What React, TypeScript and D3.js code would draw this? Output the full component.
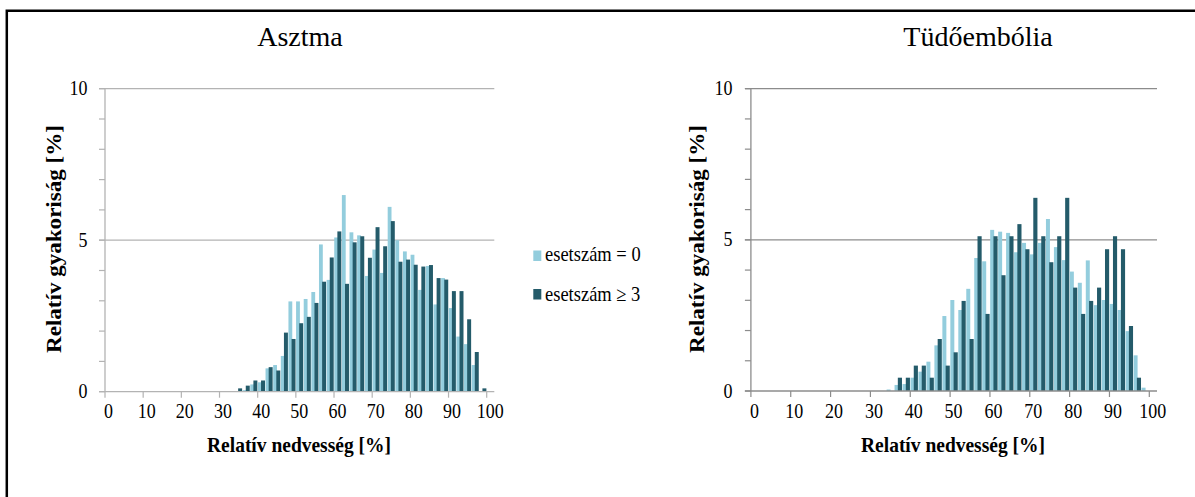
import React from 'react';
import * as d3 from 'd3';

// Humidity bins (2 % wide), identified by their centre value
const binCenters = [35, 37, 39, 41, 43, 45, 47, 49, 51, 53, 55, 57, 59, 61, 63, 65, 67, 69, 71, 73, 75, 77, 79, 81, 83, 85, 87, 89, 91, 93, 95, 97, 99];

// Asztma – relative frequency [%] per bin
const asthmaZero = [0, 0.05, 0.24, 0.31, 0.77, 0.88, 1.18, 2.98, 2.98, 3.06, 3.29, 4.86, 3.69, 5.09, 6.49, 5.26, 5.16, 3.82, 4.69, 3.92, 6.1, 5.0, 4.63, 4.52, 3.36, 4.15, 2.88, 3.75, 2.76, 1.82, 1.57, 0.88, 0];
const asthmaThreePlus = [0.11, 0.2, 0.37, 0.37, 0.81, 0.7, 1.95, 1.74, 2.26, 2.47, 2.93, 3.63, 4.43, 5.29, 3.56, 4.93, 5.13, 4.42, 5.43, 4.8, 5.63, 4.29, 4.36, 4.19, 4.13, 4.18, 3.75, 3.7, 3.32, 3.32, 2.39, 1.31, 0.11];

// Tüdőembólia – relative frequency [%] per bin
const embolismZero = [0.05, 0.2, 0.23, 0.44, 0.64, 0.97, 1.51, 2.48, 3.01, 2.68, 3.38, 4.4, 4.29, 5.33, 5.27, 5.23, 4.59, 4.9, 4.52, 4.9, 5.69, 4.76, 4.33, 3.95, 3.58, 4.32, 2.84, 3.01, 2.88, 2.68, 1.98, 1.18, 0.11];
const embolismThreePlus = [0, 0.44, 0.44, 0.84, 0.84, 0.44, 1.72, 0.84, 1.28, 2.98, 1.72, 5.12, 2.55, 5.12, 3.83, 5.12, 5.52, 4.69, 6.39, 5.12, 4.26, 5.12, 6.39, 3.42, 2.55, 2.98, 3.42, 4.69, 5.12, 4.69, 2.15, 0.44, 0];

const xTickValues = [0, 10, 20, 30, 40, 50, 60, 70, 80, 90, 100];
const yLabelValues = [0, 5, 10];
const yMinorValues = [0, 1, 2, 3, 4, 5, 6, 7, 8, 9, 10];
const gridValues = [5, 10];
const seriesNames = ['esetszám = 0', 'esetszám ≥ 3'];
const seriesColors = ['#93CDDD', '#245B6A'];

const FONT = '"Liberation Serif", "Times New Roman", serif';
const STRETCH = 1.12;

type TextProps = {
  x: number;
  y: number;
  children: React.ReactNode;
  anchor?: 'start' | 'middle' | 'end';
  size?: number;
  weight?: string | number;
  sy?: number;
};

function SText({ x, y, children, anchor = 'middle', size = 18, weight = 'normal', sy = STRETCH }: TextProps) {
  return (
    <text
      transform={`translate(${x},${y}) scale(1,${sy})`}
      textAnchor={anchor}
      fontFamily={FONT}
      fontSize={size}
      fontWeight={weight}
      fill="#000"
    >
      {children}
    </text>
  );
}

type PanelProps = {
  title: string;
  zero: number[];
  threePlus: number[];
  left: number;
  right: number;
  axisEnd: number;
  top: number;
  bottom: number;
  gridColor: string;
  titleX: number;
  xTitleX: number;
  yTitleX: number;
  yLabelRight: number;
};

function Panel(p: PanelProps) {
  const x = d3.scaleLinear().domain([0, 100]).range([p.left, p.right]);
  const y = d3.scaleLinear().domain([0, 10]).range([p.bottom, p.top]);
  const bw = x(2) - x(0);

  return (
    <g>
      {/* chart title */}
      <text x={p.titleX} y={45.7} textAnchor="middle" fontFamily={FONT} fontSize={28}>
        {p.title}
      </text>

      {/* horizontal gridlines */}
      {gridValues.map((v) => (
        <line key={`g${v}`} x1={p.left - 6} x2={p.axisEnd} y1={y(v)} y2={y(v)} stroke={p.gridColor} strokeWidth={1.3} />
      ))}

      {/* bars: light series left, dark series right within each bin */}
      {binCenters.map((c, i) => {
        const x0 = x(c - 1);
        const v0 = p.zero[i];
        const v3 = p.threePlus[i];
        return (
          <g key={`b${c}`}>
            {v0 > 0 && (
              <rect x={x0 + bw * 0.03} width={bw * 0.5} y={y(v0)} height={y(0) - y(v0)} fill={seriesColors[0]} />
            )}
            {v3 > 0 && (
              <rect x={x0 + bw * 0.44} width={bw * 0.52} y={y(v3)} height={y(0) - y(v3)} fill={seriesColors[1]} />
            )}
          </g>
        );
      })}

      {/* y axis */}
      <line x1={p.left} x2={p.left} y1={p.top} y2={p.bottom} stroke={p.gridColor} strokeWidth={1.3} />
      {yMinorValues.map((v) => (
        <line key={`yt${v}`} x1={p.left - 6} x2={p.left} y1={y(v)} y2={y(v)} stroke={p.gridColor} strokeWidth={1.2} />
      ))}
      {yLabelValues.map((v) => (
        <SText key={`yl${v}`} x={p.yLabelRight} y={y(v) + 6.5} anchor="end" size={18}>
          {v}
        </SText>
      ))}

      {/* x axis */}
      <line x1={p.left - 6} x2={p.axisEnd} y1={p.bottom} y2={p.bottom} stroke={p.gridColor} strokeWidth={1.3} />
      {xTickValues.map((v) => (
        <line key={`xt${v}`} x1={x(v)} x2={x(v)} y1={p.bottom} y2={p.bottom + 6} stroke={p.gridColor} strokeWidth={1.2} />
      ))}
      {xTickValues.map((v) => (
        <SText key={`xl${v}`} x={x(v) + 3.5} y={418} size={18}>
          {v}
        </SText>
      ))}

      {/* axis titles */}
      <SText x={p.xTitleX} y={452} size={19.5} weight="bold">
        Relatív nedvesség [%]
      </SText>
      <text
        transform={`translate(${p.yTitleX},239) rotate(-90)`}
        textAnchor="middle"
        fontFamily={FONT}
        fontSize={20}
        fontWeight="bold"
        textLength={228}
        lengthAdjust="spacingAndGlyphs"
      >
        Relatív gyakoriság [%]
      </text>
    </g>
  );
}

export default function App() {
  const legendRows = [0, 1];
  return (
    <svg
      width={1195}
      height={497}
      viewBox="0 0 1195 497"
      style={{ position: 'absolute', left: 0, top: 0, background: '#fff' }}
    >
      <rect x={0} y={0} width={1195} height={497} fill="#fff" />
      {/* frame */}
      <path d="M6.8,497 V10.7 H1195" fill="none" stroke="#000" strokeWidth={2.5} />

      <Panel
        title="Asztma"
        zero={asthmaZero}
        threePlus={asthmaThreePlus}
        left={105}
        right={486.7}
        axisEnd={494.3}
        top={88.7}
        bottom={391.7}
        gridColor="#b3b3b3"
        titleX={300}
        xTitleX={299}
        yTitleX={60.5}
        yLabelRight={87.5}
      />
      <Panel
        title="Tüdőembólia"
        zero={embolismZero}
        threePlus={embolismThreePlus}
        left={750.9}
        right={1149.3}
        axisEnd={1157}
        top={88.7}
        bottom={391}
        gridColor="#8c8c8c"
        titleX={978}
        xTitleX={953}
        yTitleX={704}
        yLabelRight={732.5}
      />

      {/* legend */}
      {legendRows.map((i) => (
        <g key={`lg${i}`}>
          <rect x={533.3} y={250.5 + i * 38.5} width={8} height={10.5} fill={seriesColors[i]} />
          <SText x={545} y={260.5 + i * 40} anchor="start" size={18.5}>
            {seriesNames[i]}
          </SText>
        </g>
      ))}
    </svg>
  );
}
